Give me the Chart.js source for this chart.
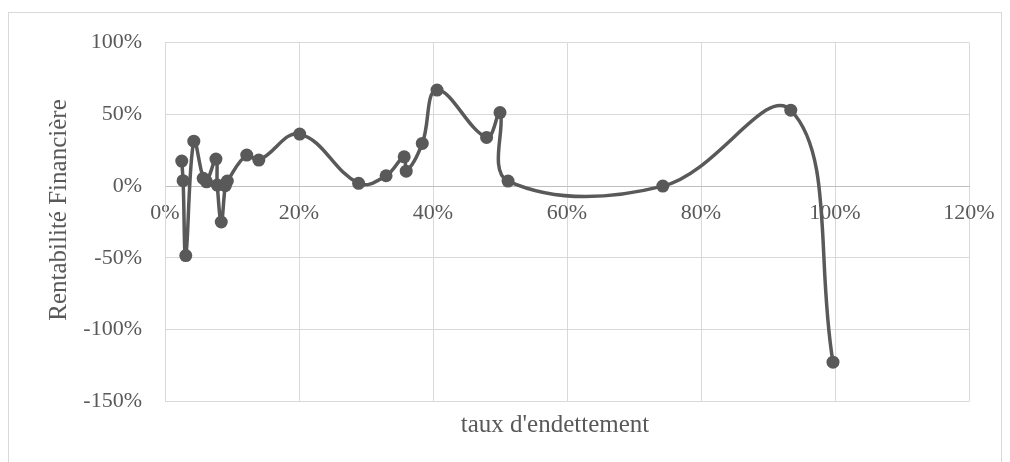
<!DOCTYPE html>
<html><head><meta charset="utf-8">
<script src="https://cdn.jsdelivr.net/npm/chart.js@4"></script>
<style>html,body{margin:0;padding:0;background:#fff;} canvas{display:block;}</style>
</head><body>
<canvas id="c" width="1010" height="462"></canvas>
<script>
// Taux d'endettement (%)
const debtRatio = [2.5, 2.7, 3.1, 4.3, 5.7, 6.2, 7.6, 7.8, 8.4, 9.0, 9.3, 12.2, 14.0, 20.1, 28.9, 33.0, 35.7, 36.0, 38.4, 40.6, 48.0, 50.0, 51.2, 74.3, 93.4, 99.7];
// Rentabilité financière (%)
const returnOnEquity = [17.4, 3.8, -48.4, 31.3, 5.4, 3.0, 18.8, 0.7, -25.0, 0.3, 3.5, 21.6, 18.1, 36.2, 1.9, 7.2, 20.4, 10.4, 29.7, 66.9, 33.9, 51.2, 3.5, 0.0, 52.9, -122.6];
const xTickValues = [0, 20, 40, 60, 80, 100, 120];
const yTickValues = [-150, -100, -50, 0, 50, 100];
const xTitle = "taux d'endettement";
const yTitle = "Rentabilité Financière";

const FONT = '"Liberation Serif", "Times New Roman", serif';
const TEXT = '#595959';
const GRID = '#d9d9d9';
const MARK = '#595959';

const extras = {
  id: 'extras',
  afterDraw(chart) {
    const ctx = chart.ctx;
    ctx.save();
    ctx.strokeStyle = GRID;
    ctx.lineWidth = 1;
    ctx.strokeRect(8.5, 12.5, 993, 470);
    ctx.fillStyle = TEXT;
    ctx.font = '25px ' + FONT;
    ctx.textAlign = 'center';
    ctx.textBaseline = 'middle';
    ctx.fillText(xTitle, 555, 425);
    ctx.translate(59, 210);
    ctx.rotate(-Math.PI / 2);
    ctx.fillText(yTitle, 0, 0);
    ctx.restore();
  }
};

new Chart(document.getElementById('c'), {
  type: 'scatter',
  data: {
    datasets: [{
      data: debtRatio.map((x, i) => ({ x: x, y: returnOnEquity[i] })),
      showLine: true,
      tension: 0.4,
      borderColor: MARK,
      backgroundColor: MARK,
      borderWidth: 3.5,
      pointRadius: 6.5,
      pointBorderWidth: 0,
      pointBackgroundColor: MARK
    }]
  },
  options: {
    responsive: false,
    animation: false,
    devicePixelRatio: 1,
    layout: { padding: { left: 0, top: 42.5, right: 41, bottom: 60.5 } },
    plugins: { legend: { display: false }, tooltip: { enabled: false } },
    scales: {
      x: {
        type: 'linear',
        position: { y: 0 },
        min: 0, max: 120,
        afterBuildTicks: s => { s.ticks = xTickValues.map(v => ({ value: v })); },
        ticks: {
          callback: v => v + '%',
          font: { family: FONT, size: 22 },
          color: TEXT,
          padding: 14,
          maxRotation: 0,
          autoSkip: false
        },
        grid: { color: GRID, lineWidth: 1, drawTicks: false },
        border: { color: '#bfbfbf', width: 1 }
      },
      y: {
        type: 'linear',
        min: -150, max: 100,
        afterBuildTicks: s => { s.ticks = yTickValues.map(v => ({ value: v })); },
        afterFit: s => { s.width = 165; },
        ticks: {
          callback: v => v + '%',
          font: { family: FONT, size: 22 },
          color: TEXT,
          padding: 23
        },
        grid: { color: GRID, lineWidth: 1, drawTicks: false },
        border: { color: GRID, width: 1 }
      }
    }
  },
  plugins: [extras]
});
</script>
</body></html>
